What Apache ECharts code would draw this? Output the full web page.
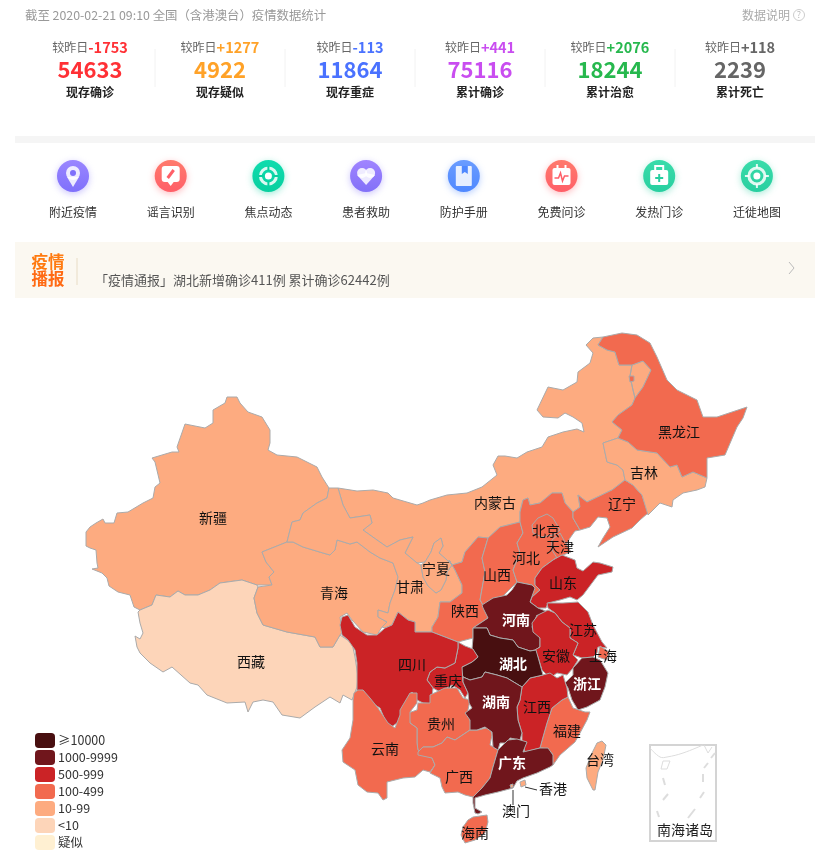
<!DOCTYPE html>
<html>
<head>
<meta charset="utf-8">
<title>疫情数据统计</title>
<script src="https://cdn.jsdelivr.net/npm/echarts@6/dist/echarts.min.js"></script>
<style>
html, body { margin: 0; padding: 0; background: #fff; }
#chart-container { width: 830px; height: 865px; }
</style>
</head>
<body>
<div id="chart-container"></div>
<script>
const FONT = '"Noto Sans CJK SC", "Noto Sans", sans-serif';

// top counters
const statTitles = ['现存确诊', '现存疑似', '现存重症', '累计确诊', '累计治愈', '累计死亡'];
const statTotals = [54633, 4922, 11864, 75116, 18244, 2239];
const statDeltas = ['-1753', '+1277', '-113', '+441', '+2076', '+118'];
const statColors = ['#ff3035', '#ffa228', '#4a72ff', '#c94df0', '#27b84e', '#666666'];

const serviceNames = ['附近疫情', '谣言识别', '焦点动态', '患者救助', '防护手册', '免费问诊', '发热门诊', '迁徙地图'];
const serviceColors = [
    ['#9a86ff', '#7f70fb'], ['#ff7a6c', '#ff5f68'], ['#0fdcae', '#08cf9f'], ['#a084ff', '#8270f8'],
    ['#6a9cff', '#4f88ff'], ['#ff7a6c', '#ff5f68'], ['#3adcaa', '#28cfa0'], ['#3adcaa', '#28cfa0']
];

const noticeText = '「疫情通报」湖北新增确诊411例 累计确诊62442例';

// confirmed cases per province, values estimated within the colour bands
const provinceNames = ['湖北', '广东', '河南', '浙江', '湖南', '安徽', '江西', '山东', '江苏', '重庆', '四川',
    '黑龙江', '北京', '上海', '河北', '福建', '广西', '陕西', '云南', '海南', '贵州', '天津', '山西', '辽宁',
    '甘肃', '吉林', '新疆', '内蒙古', '宁夏', '香港', '青海', '台湾', '澳门', '西藏'];
const provinceValues = [62442, 1332, 1262, 1204, 1010, 988, 934, 749, 631, 572, 520,
    479, 396, 334, 307, 293, 245, 245, 174, 168, 146, 132, 132, 121,
    91, 91, 76, 75, 71, 69, 18, 24, 10, 1];
const whiteLabelNames = ['湖北', '广东', '河南', '浙江', '湖南'];

// legend bands, lowest first because the piecewise legend lists them bottom up
const bandLabels = ['疑似', '<10', '10-99', '100-499', '500-999', '1000-9999', '≥10000'];
const bandMins = [-1, 1, 10, 100, 500, 1000, 10000];
const bandMaxs = [-1, 9, 99, 499, 999, 9999, Infinity];
const bandColors = ['#fff0d2', '#fdd5b9', '#fdab80', '#f26a4f', '#cb2326', '#70161c', '#480f10'];

// map outlines, listed bottom layer first
const provinceOutlines = {
    内蒙古: ['338,488 357,491 373,490 388,493 393,498 417,505 423,503 430,500 447,495 467,493 482,487 497,475 493,465 498,456 505,456 517,458 527,452 542,447 548,437 563,432 577,429 584,432 582,423 573,417 565,413 558,418 543,417 537,410 548,387 563,390 577,382 578,372 590,363 593,353 586,345 593,338 603,337 598,345 607,350 615,352 619,365 632,365 630,376 633,390 635,398 632,405 618,415 612,422 622,430 618,438 603,443 607,462 617,465 623,470 625,480 612,490 587,502 578,495 580,507 573,512 565,503 562,493 552,493 540,503 530,505 528,498 523,500 520,512 520,522 500,527 488,538 478,537 465,552 462,562 452,565 447,560 439,553 443,546 441,538 434,543 431,552 425,562 417,563 405,553 413,537 400,540 387,547 377,540 363,530 372,523 370,515 350,518 343,505',
        '632,365 643,361 651,370 643,387 635,398 633,390 630,376'],
    新疆: ['227,397 237,397 240,403 248,412 262,417 270,430 270,443 268,450 277,455 297,457 317,467 322,477 329,488 327,498 317,503 303,513 300,520 292,522 287,542 262,552 266,562 274,572 269,577 272,585 257,585 242,580 220,583 210,590 198,595 185,595 178,591 170,597 156,595 152,605 140,610 134,607 130,595 118,592 109,586 107,578 102,573 92,569 98,568 97,563 96,550 90,548 86,546 86,532 90,527 96,523 103,519 105,523 114,523 117,513 128,512 143,503 153,498 155,487 160,483 155,462 152,458 172,452 179,452 177,447 185,424 205,428 213,423 213,410 225,403'],
    西藏: ['138,612 140,610 152,605 156,595 170,597 178,591 185,595 198,595 210,590 220,583 242,580 257,585 258,587 254,598 257,613 263,625 287,632 315,637 320,647 333,647 340,635 352,643 355,657 358,677 357,687 352,700 343,695 340,703 330,697 315,707 300,718 282,715 273,702 263,700 253,702 248,712 245,702 227,703 207,695 198,685 190,683 172,667 163,672 150,663 140,653 137,647 135,636 140,639 143,633 140,623'],
    青海: ['262,552 287,542 293,542 303,547 323,553 330,555 335,550 337,540 350,544 357,542 370,552 380,558 393,563 398,577 395,590 390,603 388,613 378,610 378,617 387,622 382,627 377,635 363,632 352,620 347,613 340,617 342,632 340,635 333,647 320,647 315,637 287,632 263,625 257,613 254,598 258,587 272,585 269,577 274,572 266,562'],
    甘肃: ['329,488 338,488 343,505 350,518 370,515 372,523 363,530 377,540 387,547 400,540 413,537 405,553 417,563 421,565 423,577 428,586 436,593 441,590 446,580 447,572 452,565 449,560 455,570 462,585 462,593 450,602 440,602 438,617 432,627 432,632 415,632 415,622 408,620 398,612 392,625 385,628 382,627 387,622 378,617 378,610 388,613 390,603 395,590 398,577 393,563 380,558 370,552 357,542 350,544 337,540 335,550 330,555 323,553 303,547 293,542 287,542 292,522 300,520 303,513 317,503 327,498'],
    宁夏: ['434,543 441,538 443,546 439,553 447,560 452,565 447,572 446,580 441,590 436,593 428,586 423,577 421,565 425,562 431,552'],
    陕西: ['462,562 465,552 478,537 488,538 482,558 485,572 480,600 483,605 488,618 473,628 473,638 458,642 445,637 432,632 432,627 438,617 440,602 450,602 462,593 462,585 455,570 449,560 452,565'],
    山西: ['488,538 500,527 520,522 523,533 517,543 520,553 513,570 517,582 502,597 483,605 480,600 485,572 482,558'],
    河北: ['520,522 520,512 523,500 528,498 530,505 540,503 552,493 562,493 565,503 573,512 573,518 580,530 575,531 570,538 566,545 570,551 563,553 553,560 542,568 535,578 535,585 540,590 532,597 530,590 532,585 517,582 513,570 520,553 517,543 523,533'],
    北京: ['547,514 553,518 560,530 553,535 542,537 533,533 532,525 538,518'],
    天津: ['560,533 565,542 571,552 563,555 557,558 552,550 552,540'],
    辽宁: ['578,495 587,502 612,490 625,480 633,485 642,495 648,513 640,520 632,528 613,537 598,547 603,538 610,527 607,518 598,517 590,527 580,530 573,518 573,512 580,507'],
    吉林: ['603,443 618,438 628,442 637,450 657,453 670,467 677,465 682,477 693,472 707,478 705,487 697,490 683,493 673,500 672,507 660,503 648,515 642,495 633,485 625,480 623,470 617,465 607,462'],
    黑龙江: ['603,337 622,333 637,335 650,343 657,357 667,380 677,390 697,400 703,417 717,417 747,407 743,418 737,427 725,455 707,458 707,478 693,472 682,477 677,465 670,467 657,453 637,450 628,442 618,438 622,430 612,422 618,415 632,405 635,398 643,387 651,370 643,361 632,365 619,365 615,352 607,350 598,345',
        '629,376 634,376 634,381 630,382'],
    山东: ['562,555 575,560 577,568 583,571 593,562 600,563 613,567 612,572 598,575 592,583 583,595 577,600 570,597 560,600 548,603 546,608 538,608 530,602 532,597 540,590 535,585 535,578 542,568 553,560'],
    河南: ['517,582 532,585 535,588 530,602 538,608 548,612 545,618 537,615 532,627 535,633 540,638 540,647 535,650 530,651 518,647 513,640 500,638 490,635 487,628 473,628 488,618 483,608 482,605 493,598 507,595 512,590'],
    江苏: ['547,603 563,603 578,602 588,612 593,625 602,642 607,648 598,647 597,653 593,657 582,658 573,655 578,643 570,638 570,628 562,622 555,613 548,608'],
    上海: ['600,646 609,652 607,660 598,657'],
    安徽: ['538,615 548,610 555,613 562,622 570,628 570,638 578,643 573,655 578,660 573,668 567,675 557,673 550,678 542,670 538,657 535,650 540,647 540,638 533,632 532,623'],
    浙江: ['582,658 593,657 600,660 608,673 605,687 600,700 587,707 578,710 572,700 568,688 565,683 573,675 573,668'],
    福建: ['568,697 573,708 585,712 590,712 587,720 580,733 575,742 560,755 553,765 552,753 543,748 540,748 543,737 547,723 552,708 562,700'],
    江西: ['522,687 530,678 543,675 550,673 557,678 563,675 567,688 568,697 562,700 552,708 547,723 543,737 540,748 525,752 522,740 522,733 518,720 517,707 520,700'],
    湖北: ['473,628 487,628 490,635 500,638 513,640 518,647 530,651 536,650 538,657 543,675 530,678 522,687 507,678 497,675 485,672 482,677 470,680 463,677 460,668 472,662 478,657 472,649 473,638'],
    重庆: ['458,642 465,646 473,649 478,657 472,662 462,667 463,682 468,693 465,698 460,690 452,685 440,692 433,688 427,680 430,672 437,667 445,668 455,663 458,648'],
    四川: ['342,617 348,615 355,627 367,635 377,635 385,628 392,625 398,612 408,620 415,622 415,632 432,632 445,637 458,642 458,648 455,663 445,668 437,667 430,672 427,680 433,688 432,698 435,704 423,703 417,700 412,692 405,703 405,712 397,723 390,728 385,720 380,708 370,702 363,690 358,700 357,693 357,663 355,650 348,640 342,635 340,625'],
    贵州: ['408,713 417,710 418,703 430,703 430,695 445,688 457,688 463,698 470,700 468,710 470,720 473,730 470,730 455,740 447,737 442,743 433,747 423,747 418,752 417,743 417,728 410,723'],
    云南: ['358,690 363,690 370,698 378,708 388,723 395,728 400,715 400,710 410,693 417,693 417,703 410,712 410,723 417,728 417,743 418,750 432,758 435,765 430,772 423,770 415,777 403,778 387,782 387,798 383,800 378,793 367,792 358,785 355,770 343,762 342,750 350,738 353,720 353,700 354,693'],
    广西: ['418,752 423,747 433,747 442,743 447,737 455,740 470,730 478,730 490,727 492,735 490,745 498,750 493,767 490,778 482,788 473,797 465,795 458,792 445,793 442,787 440,778 430,773 435,765 432,758 418,755'],
    湖南: ['470,680 482,677 485,672 497,675 507,678 522,687 520,700 517,707 518,720 522,733 520,740 510,738 507,743 500,743 498,750 493,747 492,732 485,727 477,730 470,730 470,720 465,713 472,708 469,703 468,693 463,682 463,677'],
    广东: ['498,750 508,740 517,739 527,742 523,752 540,748 548,748 553,755 553,765 550,767 537,773 523,778 517,781 513,788 498,792 485,795 475,798 475,808 482,812 478,814 475,813 473,803 473,797 482,788 490,778 493,767'],
    海南: ['473,817 487,815 488,822 485,833 475,840 465,843 461,835 463,827 468,820'],
    台湾: ['602,741 606,745 603,760 598,772 595,790 593,790 587,778 586,768 592,753 597,743'],
    香港: ['520,782 525,780 526,785 521,787'],
    澳门: ['510,785 513,784 513,787 511,788']
};

// where each province name sits on the map
const labelAnchors = {
    新疆: [213, 518], 西藏: [251, 662], 青海: [334, 593], 甘肃: [410, 587], 宁夏: [436, 569], 内蒙古: [495, 503],
    黑龙江: [679, 432], 吉林: [644, 473], 辽宁: [622, 504], 北京: [546, 531], 天津: [560, 547], 河北: [526, 558],
    山西: [497, 575], 山东: [563, 583], 陕西: [465, 611], 河南: [516, 620], 江苏: [583, 630], 上海: [603, 656],
    安徽: [556, 656], 湖北: [513, 664], 四川: [412, 665], 重庆: [448, 681], 浙江: [587, 684], 湖南: [496, 702],
    江西: [537, 707], 贵州: [441, 724], 福建: [567, 731], 云南: [385, 749], 广西: [459, 777], 广东: [512, 763],
    台湾: [600, 760], 海南: [475, 833], 香港: [553, 789], 澳门: [516, 811]
};

function parseRing(text) {
    return text.split(' ').map(function(pair) {
        const p = pair.split(',');
        return [+p[0], -p[1]];
    });
}

echarts.registerMap('provinces', {
    type: 'FeatureCollection',
    features: Object.keys(provinceOutlines).map(function(name) {
        return {
            type: 'Feature',
            properties: { name: name, cp: [labelAnchors[name][0], -labelAnchors[name][1]] },
            geometry: {
                type: 'MultiPolygon',
                coordinates: provinceOutlines[name].map(function(ring) { return [parseRing(ring)]; })
            }
        };
    })
});

function label(x, y, text, size, fill, weight, align) {
    return {
        type: 'text', x: x, y: y, silent: true,
        style: { text: text, fontFamily: FONT, fontSize: size, fill: fill, fontWeight: weight || 'normal',
            textAlign: align || 'center', textVerticalAlign: 'middle' }
    };
}

function line(points, color, width) {
    return { type: 'polyline', silent: true, shape: { points: points }, style: { stroke: color, lineWidth: width || 1, fill: null } };
}

// small white glyphs inside the round service buttons, drawn around 0,0
function serviceGlyph(i, tint) {
    const white = '#fff';
    const soft = 'rgba(255,255,255,0.85)';
    const dot = function(r, fill) { return { type: 'circle', shape: { r: r }, style: { fill: fill } }; };
    const ring = { type: 'circle', shape: { r: 8 }, style: { fill: null, stroke: soft, lineWidth: 3 } };
    const shape = function(points, fill, smooth) { return { type: 'polygon', shape: { points: points, smooth: smooth || 0 }, style: { fill: fill } }; };
    const box = function(x, y, w, h, r, fill) { return { type: 'rect', shape: { x: x, y: y, width: w, height: h, r: r }, style: { fill: fill } }; };
    switch (i) {
        case 0:
            return [Object.assign(dot(7, soft), { y: -3 }), shape([[-6, 1], [6, 1], [0, 11]], soft),
                Object.assign(dot(3, tint), { y: -3 })];
        case 1:
            return [box(-9, -10, 18, 16, 3, white), shape([[-3, 6], [3, 6], [0, 10]], white),
                line([[3, -6], [-3, 2]], tint, 3)];
        case 2:
            return [ring, dot(3.5, white), line([[-10, 0], [-5, 0]], tint, 2), line([[5, 0], [10, 0]], tint, 2),
                line([[0, -10], [0, -5]], tint, 2), line([[0, 5], [0, 10]], tint, 2)];
        case 3:
            return [Object.assign(dot(5, soft), { x: -4, y: -3 }), Object.assign(dot(5, soft), { x: 4, y: -3 }),
                shape([[-9, -1], [0, -3], [9, -1], [0, 9]], soft)];
        case 4:
            return [box(-8, -10, 16, 20, 1, soft), shape([[-2, -10], [4, -10], [4, -2], [1, -4], [-2, -2]], tint)];
        case 5:
            return [box(-9, -8, 18, 17, 2, white), line([[-4, -11], [-4, -6]], white, 2), line([[4, -11], [4, -6]], white, 2),
                line([[-7, 2], [-3, 2], [-1, -3], [1, 5], [3, 0], [7, 0]], tint, 1.5)];
        case 6:
            return [box(-9, -6, 18, 15, 2, white), line([[-4, -6], [-4, -10], [4, -10], [4, -6]], white, 2),
                box(-1, -2, 2, 8, 0, tint), box(-4, 1, 8, 2, 0, tint)];
        default:
            return [ring, dot(3.5, white), line([[-12, 0], [-8, 0]], soft, 2), line([[8, 0], [12, 0]], soft, 2),
                line([[0, -12], [0, -8]], soft, 2), line([[0, 8], [0, 12]], soft, 2)];
    }
}

const graphics = [];

graphics.push(label(25, 15, '截至 2020-02-21 09:10 全国（含港澳台）疫情数据统计', 12.4, '#999', 'normal', 'left'));
graphics.push(label(742, 15, '数据说明', 12, '#aaa', 'normal', 'left'));
graphics.push({ type: 'circle', silent: true, shape: { cx: 799, cy: 15, r: 5.5 }, style: { fill: null, stroke: '#ccc', lineWidth: 1 } });
graphics.push(label(799, 15, '?', 9, '#bbb'));

statTitles.forEach(function(title, i) {
    const cx = 90 + i * 130;
    graphics.push({
        type: 'text', x: cx, y: 47, silent: true,
        style: {
            text: '{a|较昨日}{b|' + statDeltas[i] + '}',
            textAlign: 'center', textVerticalAlign: 'middle',
            rich: {
                a: { fontFamily: FONT, fontSize: 12, fill: '#666', color: '#666' },
                b: { fontFamily: FONT, fontSize: 14.5, fontWeight: 'bold', fill: statColors[i], color: statColors[i] }
            }
        }
    });
    graphics.push(label(cx, 70, String(statTotals[i]), 22, statColors[i], 'bold'));
    graphics.push(label(cx, 92, title, 12, '#222', 'bold'));
    if (i > 0) {
        graphics.push(line([[cx - 65, 49], [cx - 65, 87]], '#f2f2f2'));
    }
});

graphics.push({ type: 'rect', silent: true, shape: { x: 15, y: 136, width: 800, height: 7 }, style: { fill: '#f5f5f5' } });

serviceNames.forEach(function(name, i) {
    const cx = 73 + i * 97.7;
    graphics.push({
        type: 'group', x: cx, y: 176, silent: true,
        children: [{
            type: 'circle', shape: { r: 16 },
            style: {
                fill: { type: 'linear', x: 0, y: 0, x2: 0, y2: 1, colorStops: [{ offset: 0, color: serviceColors[i][0] }, { offset: 1, color: serviceColors[i][1] }] },
                shadowBlur: 7, shadowOffsetY: 2, shadowColor: serviceColors[i][1] + '66'
            }
        }].concat(serviceGlyph(i, serviceColors[i][1]))
    });
    graphics.push(label(cx, 212, name, 12, '#333'));
});

graphics.push({ type: 'rect', silent: true, shape: { x: 15, y: 242, width: 800, height: 56 }, style: { fill: '#fbf8f1' } });
graphics.push(label(48, 262, '疫情', 16.5, '#ff7a10', 'bold'));
graphics.push(label(48, 279, '播报', 16.5, '#ff6a14', 'bold'));
graphics.push(line([[77, 258], [77, 285]], '#e8dcc5'));
graphics.push(label(95, 280, noticeText, 13, '#555', 'normal', 'left'));
graphics.push(line([[789, 262], [794, 268], [789, 274]], '#bbb'));

// leader lines of the two small regions
graphics.push(line([[525, 787], [537, 790]], '#333'));
graphics.push(line([[513, 790], [513, 805]], '#333'));

// South China Sea inset
graphics.push({ type: 'rect', silent: true, shape: { x: 650, y: 745, width: 66, height: 96 }, style: { fill: null, stroke: '#d4d4d4', lineWidth: 2 } });
graphics.push({ type: 'polyline', silent: true, shape: { points: [[650, 748], [660, 757], [667, 757], [683, 753], [703, 745]], smooth: 0.4 }, style: { fill: null, stroke: '#ddd', lineWidth: 1 } });
graphics.push(line([[704, 745], [708, 753], [712, 747]], '#ddd'));
graphics.push(line([[663, 761], [670, 761], [667, 769], [661, 769], [663, 761]], '#ddd'));
[[[663, 778], [665, 785]], [[668, 794], [663, 800]], [[657, 811], [659, 817]], [[695, 809], [688, 818]],
    [[703, 774], [703, 782]], [[704, 792], [700, 798]], [[708, 763], [704, 768]], [[715, 753], [711, 758]]].forEach(function(seg) {
    graphics.push(line(seg, '#ddd', 2));
});
graphics.push(label(685, 830, '南海诸岛', 14, '#222'));

const mapData = provinceNames.map(function(name, i) {
    const item = { name: name, value: provinceValues[i] };
    if (whiteLabelNames.indexOf(name) >= 0) {
        item.label = { color: '#fff', fontWeight: 'bold' };
    }
    return item;
});

const chart = echarts.init(document.getElementById('chart-container'));

chart.setOption({
    animation: false,
    textStyle: { fontFamily: FONT },
    visualMap: {
        type: 'piecewise',
        left: 35,
        top: 733,
        padding: 0,
        orient: 'vertical',
        itemWidth: 20,
        itemHeight: 15,
        itemGap: 2,
        textGap: 3,
        itemSymbol: 'roundRect',
        selectedMode: false,
        hoverLink: false,
        seriesIndex: 0,
        textStyle: { color: '#333', fontSize: 12.5, fontFamily: FONT },
        pieces: bandLabels.map(function(text, i) {
            const piece = { label: text, color: bandColors[i] };
            if (bandMins[i] === bandMaxs[i]) {
                piece.value = bandMins[i];
            } else {
                piece.min = bandMins[i];
                if (isFinite(bandMaxs[i])) {
                    piece.max = bandMaxs[i];
                }
            }
            return piece;
        })
    },
    graphic: { elements: graphics },
    series: [{
        type: 'map',
        map: 'provinces',
        aspectScale: 1,
        boundingCoords: [[0, 0], [830, -865]],
        left: 0,
        top: 0,
        width: 830,
        height: 865,
        roam: false,
        silent: true,
        label: { show: true, color: '#111', fontSize: 14, fontFamily: FONT },
        itemStyle: { borderColor: '#aaa', borderWidth: 1 },
        emphasis: { disabled: true },
        data: mapData
    }]
});
</script>
</body>
</html>
